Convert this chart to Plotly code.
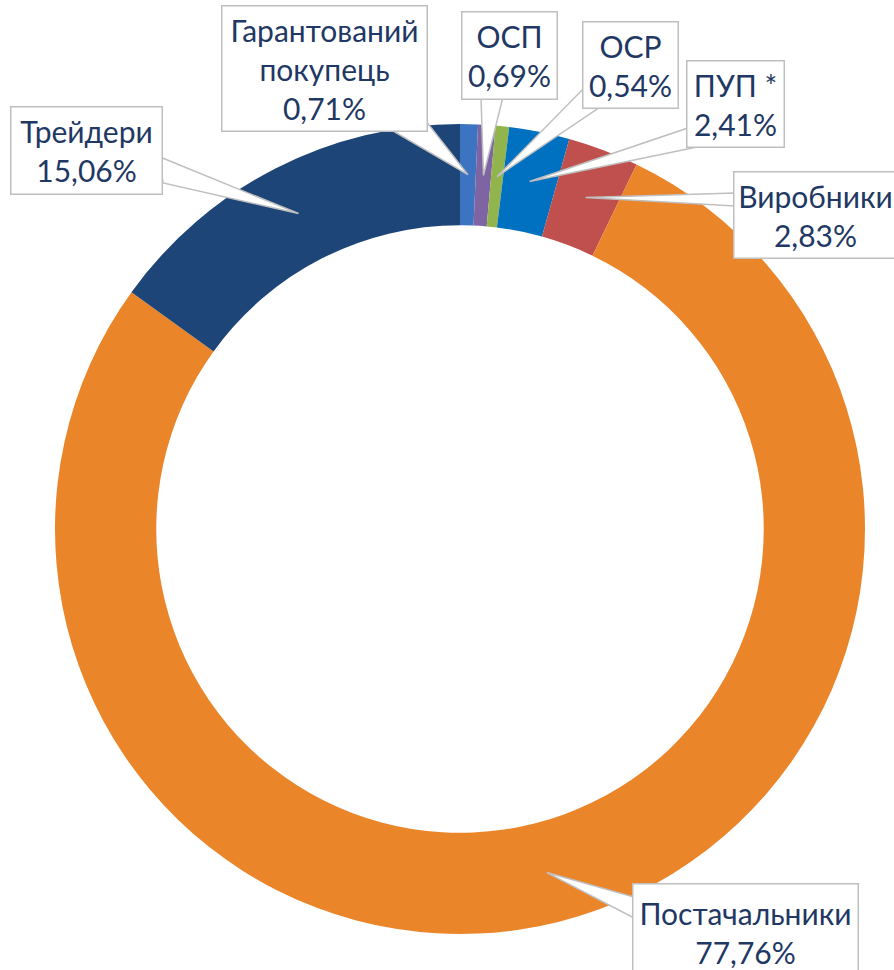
import math
import plotly.graph_objects as go

# ---- data ----
labels = ["Гарантований покупець", "ОСП", "ОСР", "ПУП *", "Виробники", "Постачальники", "Трейдери"]
label_text = ["Гарантований<br>покупець", "ОСП", "ОСР", "ПУП *", "Виробники", "Постачальники", "Трейдери"]
values = [0.71, 0.69, 0.54, 2.41, 2.83, 77.76, 15.06]
colors = ["#3d74c2", "#7f64a3", "#92b44c", "#0070c0", "#c0504d", "#ea852a", "#1d4577"]

# ---- layout constants (pixels) ----
W, H = 894, 970
CX, CY, R = 460, 529, 405
HOLE = 0.75
# label box centres and sizes (pixels, from top-left)
box_pos = [(324, 69, 204, 124), (510, 55, 94, 86), (630, 65, 94, 85),
           (735, 104, 96, 85), (815, 215, 162, 85), (745, 932, 224, 96),
           (86, 150, 150, 86)]
# callout wedge base points on the box edges
wedge_base = [((393, 131), (426, 121)), ((481, 97), (503, 97)), ((584, 88), (600, 107)),
              ((688, 128), (702, 146)), ((735, 193), (735, 206)), ((634, 897), (634, 918)),
              ((160, 157), (163, 183))]

fig = go.Figure(go.Pie(
    labels=labels, values=values, sort=False, direction="clockwise", rotation=0,
    hole=HOLE, marker=dict(colors=colors, line=dict(width=0)),
    textinfo="none", hoverinfo="label+percent",
    domain=dict(x=[(CX - R) / W, (CX + R) / W], y=[1 - (CY + R) / H, 1 - (CY - R) / H]),
))

total = sum(values)
cum = 0.0
rmid = R * (1 + HOLE) / 2
annotations = []
shapes = []
for lab, v, (bx, by, bw, bh), (b1, b2) in zip(label_text, values, box_pos, wedge_base):
    mid = (cum + v / 2) / total * 2 * math.pi
    cum += v
    px = CX + rmid * math.sin(mid)
    py = CY - rmid * math.cos(mid)
    pts = [(px, py), b1, b2]
    path = "M " + " L ".join(f"{x / W:.5f},{1 - y / H:.5f}" for x, y in pts) + " Z"
    shapes.append(dict(type="path", xref="paper", yref="paper", path=path,
                       fillcolor="white", line=dict(color="#bfbfbf", width=1.5), layer="above"))
    pct = f"{v:.2f}%".replace(".", ",")
    annotations.append(dict(
        x=bx / W, y=1 - by / H, xref="paper", yref="paper", xanchor="center", yanchor="middle",
        text=f"{lab}<br>{pct}", showarrow=False,
        bgcolor="white", bordercolor="#bfbfbf",
        borderwidth=1.5, borderpad=0, width=bw, height=bh,
        font=dict(family="Lato", size=30, color="#1f3864"), align="center",
    ))

fig.update_layout(
    width=W, height=H, margin=dict(l=0, r=0, t=0, b=0),
    paper_bgcolor="white", plot_bgcolor="white", showlegend=False,
    annotations=annotations, shapes=shapes,
)
fig.write_html("out.html", config={"displayModeBar": False},
               post_script="document.body.style.margin='0';")
